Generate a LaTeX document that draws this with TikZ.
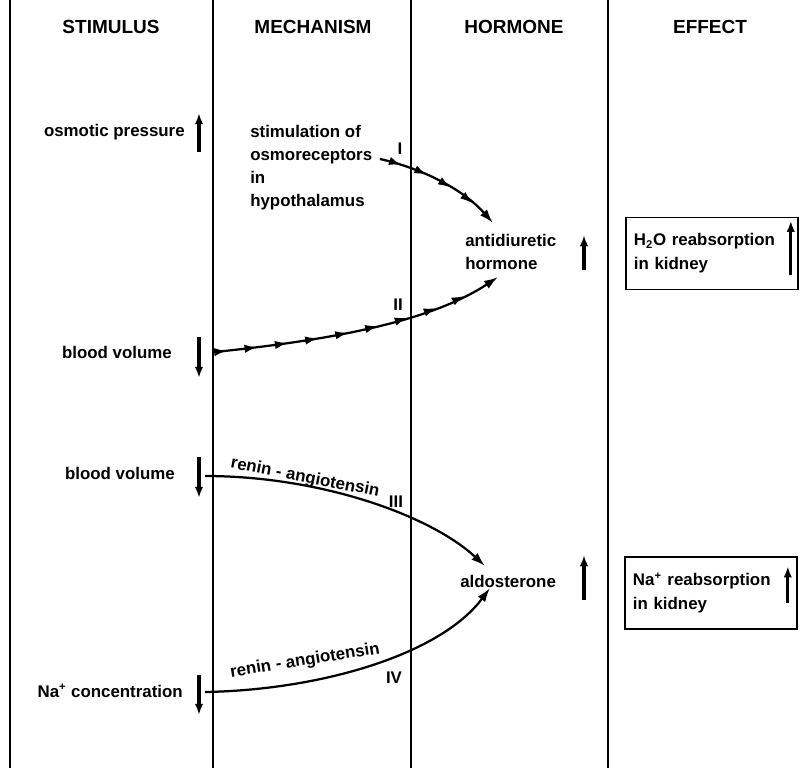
\documentclass[tikz,border=0pt]{standalone}
\usepackage{fontspec}
\setmainfont{Liberation Sans}
\usetikzlibrary{positioning,arrows.meta,decorations.markings}

\begin{document}
\begin{tikzpicture}[
    x=0.025cm, y=-0.025cm,
    every node/.style={font=\bfseries\fontsize{12}{17}\selectfont, inner sep=0pt},
    head/.style={font=\bfseries\fontsize{13.5}{16}\selectfont},
    lines/.style={align=left, font=\bfseries\fontsize{12}{16.3}\selectfont},
    col/.style={line width=1.2pt},
    ind/.style={line width=2.4pt, -{Latex[length=8pt,width=6pt]}},
    flow/.style={line width=1.6pt, -{Latex[length=10pt,width=6.5pt]}},
    multi/.style={flow, postaction={decorate}},
    effbox/.style={draw, line width=1.1pt, align=left, text width=3.9cm, inner xsep=0.2cm, minimum height=1.8cm}
]
\useasboundingbox (0,0) rectangle (808,768);

% 分栏线
\draw[col] (10,0) -- (10,768);
\draw[col] (213,0) -- (213,768);
\draw[col] (411,0) -- (411,768);
\draw[col] (608,0) -- (608,768);

% 表头
\node[head] (hstim) at (111,27) {STIMULUS};
\node[head] (hmech) at (313,27) {MECHANISM};
\node[head] (hhorm) at (514,27) {HORMONE};
\node[head] (heff) at (710,27) {EFFECT};

% 刺激
\node[anchor=base east] (osm) at (185,137) {osmotic pressure};
\node[anchor=base east] (bv1) at (172,358) {blood volume};
\node[anchor=base east] (bv2) at (175,479) {blood volume};
\node[anchor=base east] (na) at (183,697) {Na\textsuperscript{+} concentration};

\draw[ind] (199,152) -- (199,113);
\draw[ind] (199,337) -- (199,378);
\draw[ind] (199,457) -- (199,498);
\draw[ind] (199,675) -- (199,715);

% 机制
\node[lines, anchor=base west] (stim) at (250,206) {stimulation of\\osmoreceptors\\in\\hypothalamus};
\node[anchor=base] (rI) at (400,155) {I};
\node[anchor=base] (rII) at (398,310) {II};
\node[anchor=base] (rIII) at (396,507) {III};
\node[anchor=base] (rIV) at (394,683) {IV};
\node[rotate=-11] (ren3) at (305,478) {renin - angiotensin};
\node[rotate=9] (ren4) at (305,661) {renin - angiotensin};

% 激素
\node[lines, anchor=base west] (adh) at (465,269) {antidiuretic\\hormone};
\node[anchor=base west] (ald) at (460,587) {aldosterone};
\draw[ind] (584,270) -- (584,235);
\draw[ind] (584,600) -- (584,555);

% 效应
\node[effbox] (eff1) at (712,253.5) {H\textsubscript{2}O reabsorption\\in kidney};
\node[effbox] (eff2) at (711,593) {Na\textsuperscript{+} reabsorption\\in kidney};
\draw[ind] ([shift={(-8,-15)}]eff1.south east) -- ([shift={(-8,4)}]eff1.north east);
\draw[ind] ([shift={(-10,-27)}]eff2.south east) -- ([shift={(-10,10)}]eff2.north east);

% 连接线端点
\coordinate (osmo) at (380,159);
\coordinate (adhin) at (493,223);
\coordinate (bvout) at (215,352);
\coordinate (adhlow) at (498,277);
\coordinate (bv2out) at (205,476);
\coordinate (aldin) at (485,566);
\coordinate (naout) at (205,692);
\coordinate (aldlow) at (490,588);

% 连接线
\draw[multi, decoration={markings, mark=between positions 0.17 and 0.8 step 0.205 with {\arrow{Latex[length=9pt,width=6pt]}}}]
    (osmo) .. controls (420,168) and (462,188) .. (adhin);
\draw[multi, decoration={markings, mark=between positions 0.04 and 0.87 step 0.1037 with {\arrow{Latex[length=9pt,width=6pt]}}}]
    (bvout) .. controls (330,340) and (430,322) .. (adhlow);
\draw[flow] (bv2out) .. controls (320,476) and (430,515) .. (aldin);
\draw[flow] (naout) .. controls (320,690) and (440,655) .. (aldlow);

\end{tikzpicture}
\end{document}
